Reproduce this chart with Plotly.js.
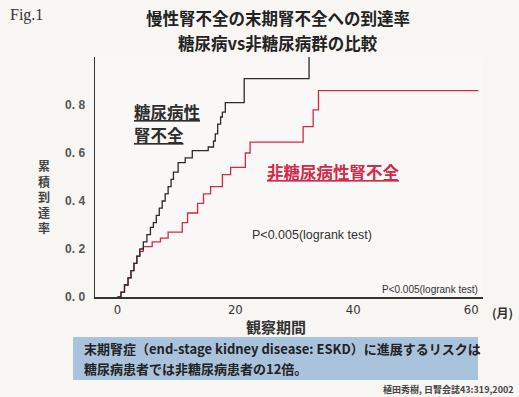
<!DOCTYPE html>
<html>
<head>
<meta charset="utf-8">
<script src="https://cdn.plot.ly/plotly-3.0.1.min.js"></script>
<style>
html,body{margin:0;padding:0;background:#f7f6f3;}
#chart{width:519px;height:397px;}
</style>
</head>
<body>
<div id="chart"></div>
<script>
// Data (months, cumulative rate)
const dmMonths = [0,0.6,1.2,1.8,2.3,2.8,3.3,3.8,4.4,5.0,5.6,6.1,6.6,7.1,7.6,8.1,8.6,9.1,9.5,10.3,11.5,12.7,15.4,16.3,16.6,17.0,17.5,17.8,18.3,21.5,32.5];
const dmRate   = [0,0.02,0.05,0.08,0.11,0.14,0.17,0.20,0.23,0.26,0.29,0.31,0.34,0.37,0.40,0.43,0.46,0.49,0.52,0.56,0.58,0.61,0.625,0.65,0.68,0.72,0.75,0.77,0.81,0.91,1.0];
const nonDmMonths = [0,0.6,1.2,1.8,2.3,2.8,3.3,3.8,4.4,5.9,7.3,8.6,11.0,11.9,13.6,14.6,15.8,17.8,19.2,21.7,22.5,31.5,33.2,34.1,61.2];
const nonDmRate   = [0,0.02,0.05,0.08,0.11,0.14,0.17,0.19,0.21,0.23,0.245,0.27,0.31,0.35,0.39,0.43,0.46,0.51,0.54,0.60,0.645,0.71,0.78,0.86,0.86];
const yTickVals = [0,0.2,0.4,0.6,0.8];
const yTickText = ["0. 0","0. 2","0. 4","0. 6","0. 8"];
const xTickVals = [0,20,40,60];
const xTickText = ["0","20","40","60"];

const W=519,H=397,L=95,R=36,T=57,B=100;
const pw=W-L-R, ph=H-T-B;
const px=x=>(x-L)/pw;
const py=y=>(H-B-y)/ph;

const jp = '"Noto Sans CJK JP", "Noto Sans", sans-serif';

const traces = [
  {x:nonDmMonths, y:nonDmRate, mode:'lines', line:{shape:'hv', color:'#d22a48', width:1.3}, hoverinfo:'skip'},
  {x:dmMonths, y:dmRate, mode:'lines', line:{shape:'hv', color:'#2a2a2a', width:1.3}, hoverinfo:'skip'}
];

const ann = (x,y,text,opts)=>Object.assign({xref:'paper',yref:'paper',x:px(x),y:py(y),text:text,showarrow:false,xanchor:'center',yanchor:'middle'},opts||{});

const annotations = [
  ann(8,15,'Fig.1',{xanchor:'left',font:{family:'"Liberation Serif", "DejaVu Serif", serif',size:16,color:'#333'}}),
  ann(278,18,'<b>慢性腎不全の末期腎不全への到達率</b>',{font:{family:jp,size:16.5,color:'#222'}}),
  ann(278,43,'<b>糖尿病vs非糖尿病群の比較</b>',{font:{family:jp,size:16.5,color:'#222'}}),
  ann(44,197,'<b>累<br>積<br>到<br>達<br>率</b>',{font:{family:jp,size:12,color:'#444'}}),
  ann(276,326,'<b>観察期間</b>',{font:{family:jp,size:15,color:'#333'}}),
  ann(502,312,'<b>(月)</b>',{font:{family:jp,size:12,color:'#333'}}),
  ann(132,112,'<b><u>糖尿病性</u></b>',{xanchor:'left',font:{family:jp,size:16.5,color:'#2e2e2e'}}),
  ann(132,135,'<b><u>腎不全</u></b>',{xanchor:'left',font:{family:jp,size:16.5,color:'#2e2e2e'}}),
  ann(265,172,'<b><u>非糖尿病性腎不全</u></b>',{xanchor:'left',font:{family:jp,size:16.5,color:'#d22a48'}}),
  ann(250,235,'P&lt;0.005(logrank test)',{xanchor:'left',font:{family:'"Liberation Sans", Arial, sans-serif',size:12.5,color:'#333'}}),
  ann(480,289,'P&lt;0.005(logrank test)',{xanchor:'right',font:{family:'"Liberation Sans", Arial, sans-serif',size:10,color:'#333'}}),
  ann(82,348,'<b>末期腎症（end-stage kidney disease: ESKD）に進展するリスクは</b>',{xanchor:'left',font:{family:jp,size:13,color:'#222'}}),
  ann(82,368,'<b>糖尿病患者では非糖尿病患者の12倍。</b>',{xanchor:'left',font:{family:jp,size:13,color:'#222'}}),
  ann(516,389,'<b>植田秀樹, 日腎会誌43:319,2002</b>',{xanchor:'right',font:{family:jp,size:9,color:'#444'}})
];

const shapes = [
  {type:'rect',xref:'paper',yref:'paper',x0:px(73),x1:px(478),y0:py(337),y1:py(380),fillcolor:'#a9c3dd',line:{width:0},layer:'below'}
];

const layout = {
  width:W,height:H,
  margin:{l:L,r:R,t:T,b:B},
  paper_bgcolor:'#f7f6f3',
  plot_bgcolor:'#f9f8f6',
  showlegend:false,
  xaxis:{range:[-3.8,62],showgrid:false,zeroline:false,showline:true,linecolor:'#333',linewidth:1.5,
    tickvals:xTickVals,ticktext:xTickText,ticks:'',
    tickfont:{family:'"DejaVu Sans Condensed", "Liberation Sans Narrow", "Liberation Sans", sans-serif',size:13,color:'#333'}},
  yaxis:{range:[0,1.0],showgrid:false,zeroline:false,showline:true,linecolor:'#333',linewidth:1.5,
    tickvals:yTickVals,ticktext:yTickText,ticks:'',ticklabelstandoff:6,
    tickfont:{family:'"Liberation Sans", Arial, sans-serif',size:12,color:'#555',weight:'bold'}},
  annotations:annotations,
  shapes:shapes
};

Plotly.newPlot('chart',traces,layout,{displayModeBar:false,staticPlot:true});
</script>
</body>
</html>
